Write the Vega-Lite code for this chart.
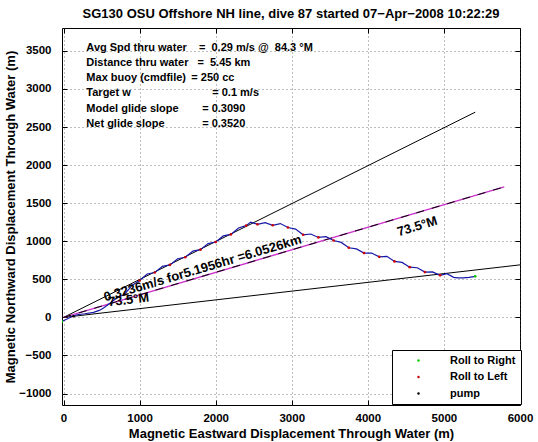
{
  "$schema": "https://vega.github.io/schema/vega-lite/v6.json",
  "width": 458,
  "height": 377,
  "autosize": "none",
  "padding": {"left": 62, "top": 28, "right": 18, "bottom": 37},
  "background": "white",
  "title": {
    "text": "SG130 OSU Offshore NH line, dive 87 started 07−Apr−2008 10:22:29",
    "font": "Liberation Sans", "fontSize": 13, "fontWeight": "bold", "color": "black",
    "anchor": "middle", "frame": "group", "baseline": "alphabetic", "offset": -3
  },
  "config": {
    "view": {"stroke": "black", "strokeWidth": 1},
    "axis": {
      "labelFont": "Liberation Sans", "labelFontSize": 11.5, "labelFontWeight": "bold", "labelColor": "black",
      "titleFont": "Liberation Sans", "titleFontSize": 13, "titleFontWeight": "bold", "titleColor": "black",
      "tickColor": "black", "tickSize": -5, "domain": false, "format": "d",
      "gridColor": "#444444", "gridDash": [1, 3], "gridOpacity": 0.7, "gridWidth": 1
    }
  },
  "datasets": {
    "refs": [
      {"name": "current", "x": 0, "y": 0},
      {"name": "current", "x": 6000, "y": 690},
      {"name": "model", "x": 0, "y": 0},
      {"name": "model", "x": 5412, "y": 2695},
      {"name": "heading", "x": 0, "y": 0},
      {"name": "heading", "x": 5793, "y": 1714}
    ],
    "track": [
      {"x": -21, "y": -53}, {"x": 40, "y": -25}, {"x": 120, "y": 15}, {"x": 176, "y": 35},
      {"x": 280, "y": 48}, {"x": 394, "y": 66}, {"x": 470, "y": 92}, {"x": 526, "y": 124},
      {"x": 614, "y": 189}, {"x": 700, "y": 255}, {"x": 800, "y": 300}, {"x": 900, "y": 420},
      {"x": 1000, "y": 485}, {"x": 1100, "y": 570}, {"x": 1200, "y": 590}, {"x": 1300, "y": 670},
      {"x": 1400, "y": 690}, {"x": 1500, "y": 770}, {"x": 1600, "y": 790}, {"x": 1700, "y": 870},
      {"x": 1800, "y": 890}, {"x": 1900, "y": 970}, {"x": 2000, "y": 990}, {"x": 2100, "y": 1070},
      {"x": 2200, "y": 1090}, {"x": 2300, "y": 1175}, {"x": 2400, "y": 1205}, {"x": 2460, "y": 1252},
      {"x": 2550, "y": 1222}, {"x": 2650, "y": 1245}, {"x": 2750, "y": 1210}, {"x": 2850, "y": 1232},
      {"x": 2950, "y": 1180}, {"x": 3050, "y": 1160}, {"x": 3150, "y": 1085}, {"x": 3250, "y": 1095},
      {"x": 3350, "y": 1050}, {"x": 3450, "y": 1060}, {"x": 3550, "y": 1010}, {"x": 3650, "y": 985},
      {"x": 3750, "y": 915}, {"x": 3850, "y": 900}, {"x": 3950, "y": 845}, {"x": 4050, "y": 845},
      {"x": 4150, "y": 795}, {"x": 4250, "y": 802}, {"x": 4350, "y": 735}, {"x": 4450, "y": 722},
      {"x": 4550, "y": 660}, {"x": 4650, "y": 652}, {"x": 4750, "y": 595}, {"x": 4850, "y": 598},
      {"x": 4950, "y": 552}, {"x": 5040, "y": 574}, {"x": 5127, "y": 526}, {"x": 5180, "y": 520},
      {"x": 5258, "y": 518}, {"x": 5330, "y": 525}, {"x": 5412, "y": 539}
    ],
    "markers": [
      {"type": "Roll to Right", "x": -21, "y": -53},
      {"type": "Roll to Right", "x": 5412, "y": 539},
      {"type": "pump", "x": 130, "y": 15},
      {"type": "Roll to Left", "x": 800, "y": 300},
      {"type": "Roll to Left", "x": 1000, "y": 485},
      {"type": "Roll to Left", "x": 1200, "y": 590},
      {"type": "Roll to Left", "x": 1400, "y": 690},
      {"type": "Roll to Left", "x": 1600, "y": 790},
      {"type": "Roll to Left", "x": 1800, "y": 890},
      {"type": "Roll to Left", "x": 2000, "y": 990},
      {"type": "Roll to Left", "x": 2200, "y": 1090},
      {"type": "Roll to Left", "x": 2400, "y": 1205},
      {"type": "Roll to Left", "x": 2550, "y": 1222},
      {"type": "Roll to Left", "x": 2750, "y": 1210},
      {"type": "Roll to Left", "x": 2950, "y": 1180},
      {"type": "Roll to Left", "x": 3150, "y": 1085},
      {"type": "Roll to Left", "x": 3350, "y": 1050},
      {"type": "Roll to Left", "x": 3550, "y": 1010},
      {"type": "Roll to Left", "x": 3750, "y": 915},
      {"type": "Roll to Left", "x": 3950, "y": 845},
      {"type": "Roll to Left", "x": 4150, "y": 795},
      {"type": "Roll to Left", "x": 4350, "y": 735},
      {"type": "Roll to Left", "x": 4550, "y": 660},
      {"type": "Roll to Left", "x": 4750, "y": 595},
      {"type": "Roll to Left", "x": 4950, "y": 552}
    ],
    "stats": [
      {"x": 300, "y": 3540, "text": "Avg Spd thru water"},
      {"x": 1780, "y": 3540, "text": "=\u00a0\u00a00.29 m/s @\u00a0\u00a084.3 °M"},
      {"x": 300, "y": 3340, "text": "Distance thru water"},
      {"x": 1760, "y": 3340, "text": "=\u00a0\u00a05.45 km"},
      {"x": 300, "y": 3140, "text": "Max buoy (cmdfile)"},
      {"x": 1680, "y": 3140, "text": "= 250 cc"},
      {"x": 300, "y": 2940, "text": "Target w"},
      {"x": 1955, "y": 2940, "text": "= 0.1 m/s"},
      {"x": 300, "y": 2740, "text": "Model glide slope"},
      {"x": 1823, "y": 2740, "text": "= 0.3090"},
      {"x": 300, "y": 2540, "text": "Net glide slope"},
      {"x": 1823, "y": 2540, "text": "= 0.3520"}
    ],
    "ann_heading": [{"x": 548, "y": 210, "text": "0.3236m/s for5.1956hr =6.0526km"}],
    "ann_low": [{"x": 592, "y": 145, "text": "73.5°M"}],
    "ann_high": [{"x": 4405, "y": 1065, "text": "73.5°M"}]
  },
  "resolve": {"axis": {"x": "independent", "y": "independent"}},
  "layer": [
    {
      "data": {"name": "refs"},
      "transform": [{"filter": "datum.name !== 'heading'"}],
      "mark": {"type": "line", "color": "black", "strokeWidth": 1, "clip": true},
      "encoding": {
        "x": {"field": "x", "type": "quantitative",
              "scale": {"domain": [-20, 6000], "nice": false, "zero": false},
              "axis": {"orient": "bottom", "values": [0, 1000, 2000, 3000, 4000, 5000, 6000],
                       "grid": true, "labelPadding": 12, "labelFlush": false,
                       "title": "Magnetic Eastward Displacement Through Water (m)",
                       "titleBaseline": "alphabetic", "titleY": 32}},
        "y": {"field": "y", "type": "quantitative",
              "scale": {"domain": [-1150, 3800], "nice": false, "zero": false},
              "axis": {"orient": "left", "values": [-1000, -500, 0, 500, 1000, 1500, 2000, 2500, 3000, 3500],
                       "grid": true, "labelPadding": 16, "labelFlush": false,
                       "title": "Magnetic Northward Displacement Through Water (m)",
                       "titleBaseline": "alphabetic", "titleX": -48}},
        "detail": {"field": "name"}
      }
    },
    {
      "data": {"name": "refs"},
      "transform": [{"filter": "datum.name === 'heading'"}],
      "mark": {"type": "line", "color": "#cc33cc", "strokeWidth": 1.4, "clip": true},
      "encoding": {
        "x": {"field": "x", "type": "quantitative",
              "axis": {"orient": "top", "values": [0, 1000, 2000, 3000, 4000, 5000, 6000],
                       "labels": false, "grid": false, "title": null}},
        "y": {"field": "y", "type": "quantitative",
              "axis": {"orient": "right", "values": [-1000, -500, 0, 500, 1000, 1500, 2000, 2500, 3000, 3500],
                       "labels": false, "grid": false, "title": null}}
      }
    },
    {
      "data": {"name": "refs"},
      "transform": [{"filter": "datum.name === 'heading'"}],
      "mark": {"type": "line", "color": "black", "strokeWidth": 1, "strokeDash": [8, 8], "clip": true},
      "encoding": {
        "x": {"field": "x", "type": "quantitative", "axis": null},
        "y": {"field": "y", "type": "quantitative", "axis": null}
      }
    },
    {
      "data": {"name": "track"},
      "mark": {"type": "line", "color": "#1818a8", "strokeWidth": 1.2, "clip": true},
      "encoding": {
        "x": {"field": "x", "type": "quantitative", "axis": null},
        "y": {"field": "y", "type": "quantitative", "axis": null},
        "order": {"value": null}
      }
    },
    {
      "data": {"name": "markers"},
      "mark": {"type": "point", "filled": true, "size": 7, "shape": "circle", "opacity": 1, "clip": true},
      "encoding": {
        "x": {"field": "x", "type": "quantitative", "axis": null},
        "y": {"field": "y", "type": "quantitative", "axis": null},
        "color": {"field": "type", "type": "nominal",
                  "scale": {"domain": ["Roll to Right", "Roll to Left", "pump"], "range": ["#00cc00", "#cc0000", "#000000"]},
                  "legend": {"orient": "none", "legendX": 330, "legendY": 322, "title": null,
                             "strokeColor": "black", "fillColor": "white", "padding": 5,
                             "symbolType": "circle", "symbolSize": 6, "symbolOffset": 16, "labelOffset": 26,
                             "labelFont": "Liberation Sans", "labelFontSize": 11, "labelFontWeight": "bold",
                             "labelColor": "black", "rowPadding": 4.5, "cornerRadius": 0}}
      }
    },
    {
      "data": {"name": "stats"},
      "mark": {"type": "text", "align": "left", "baseline": "middle", "font": "Liberation Sans",
               "fontSize": 11, "fontWeight": "bold", "color": "black"},
      "encoding": {
        "x": {"field": "x", "type": "quantitative", "axis": null},
        "y": {"field": "y", "type": "quantitative", "axis": null},
        "text": {"field": "text"}
      }
    },
    {
      "data": {"name": "ann_heading"},
      "mark": {"type": "text", "align": "left", "baseline": "alphabetic", "angle": 343.5,
               "font": "Liberation Sans", "fontSize": 13, "fontWeight": "bold", "color": "black"},
      "encoding": {
        "x": {"field": "x", "type": "quantitative", "axis": null},
        "y": {"field": "y", "type": "quantitative", "axis": null},
        "text": {"field": "text"}
      }
    },
    {
      "data": {"name": "ann_low"},
      "mark": {"type": "text", "align": "left", "baseline": "alphabetic", "angle": 353.4,
               "font": "Liberation Sans", "fontSize": 13, "fontWeight": "bold", "color": "black"},
      "encoding": {
        "x": {"field": "x", "type": "quantitative", "axis": null},
        "y": {"field": "y", "type": "quantitative", "axis": null},
        "text": {"field": "text"}
      }
    },
    {
      "data": {"name": "ann_high"},
      "mark": {"type": "text", "align": "left", "baseline": "alphabetic", "angle": 343,
               "font": "Liberation Sans", "fontSize": 13, "fontWeight": "bold", "color": "black"},
      "encoding": {
        "x": {"field": "x", "type": "quantitative", "axis": null},
        "y": {"field": "y", "type": "quantitative", "axis": null},
        "text": {"field": "text"}
      }
    }
  ]
}
